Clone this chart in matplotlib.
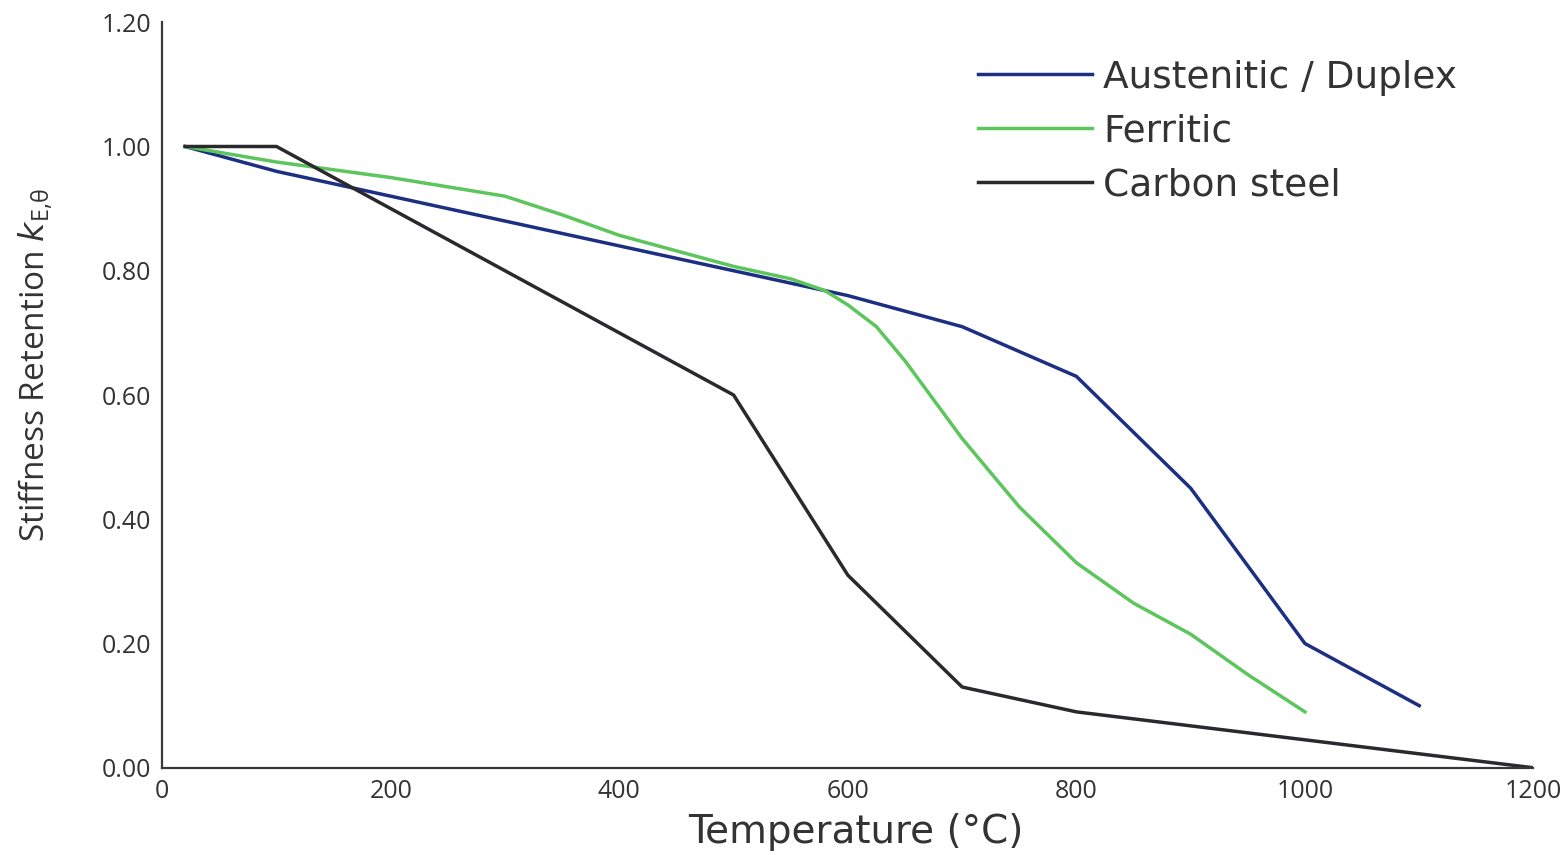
import matplotlib
matplotlib.use("Agg")
import matplotlib.pyplot as plt

# Temperaturas (°C) e fatores de retenção de rigidez
temp_aust = [20, 100, 200, 300, 400, 500, 600, 700, 800, 900, 1000, 1100]
k_aust = [1.00, 0.96, 0.92, 0.88, 0.84, 0.80, 0.76, 0.71, 0.63, 0.45, 0.20, 0.10]

temp_ferr = [20, 100, 200, 300, 350, 400, 500, 550, 580, 600, 625, 650, 700, 750, 800, 850, 900, 950, 1000]
k_ferr = [1.00, 0.975, 0.95, 0.92, 0.89, 0.857, 0.807, 0.787, 0.768, 0.745, 0.71, 0.655, 0.53, 0.42, 0.33, 0.265, 0.215, 0.15, 0.09]

temp_carb = [20, 100, 200, 300, 400, 500, 600, 700, 800, 900, 1000, 1100, 1200]
k_carb = [1.00, 1.00, 0.90, 0.80, 0.70, 0.60, 0.31, 0.13, 0.09, 0.0675, 0.045, 0.0225, 0.0]

x_ticks = [0, 200, 400, 600, 800, 1000, 1200]
y_ticks = [0.0, 0.2, 0.4, 0.6, 0.8, 1.0, 1.2]

txt = "#333333"
tick_font = ["Open Sans", "DejaVu Sans"]
wide_font = ["DejaVu Sans"]

fig = plt.figure(figsize=(15.6, 8.55), dpi=100)
ax = fig.add_axes([0.104, 0.102, 0.879, 0.872])

ax.plot(temp_aust, k_aust, color="#1c2f83", lw=2.5, label="Austenitic / Duplex", solid_joinstyle="round")
ax.plot(temp_ferr, k_ferr, color="#5cc55c", lw=2.5, label="Ferritic", solid_joinstyle="round")
ax.plot(temp_carb, k_carb, color="#2a2a2e", lw=2.5, label="Carbon steel", solid_joinstyle="round")

ax.set_xlim(0, 1200)
ax.set_ylim(0, 1.2)
ax.set_xticks(x_ticks)
ax.set_yticks(y_ticks)
ax.set_xticklabels([str(t) for t in x_ticks], family=tick_font, fontsize=18, color=txt)
ax.set_yticklabels([f"{t:.2f}" for t in y_ticks], family=tick_font, fontsize=18, color=txt)
ax.tick_params(length=0, pad=8)

for s in ["top", "right"]:
    ax.spines[s].set_visible(False)
for s in ["left", "bottom"]:
    ax.spines[s].set_color("#3a3a3a")
    ax.spines[s].set_linewidth(1.6)

ax.set_xlabel("Temperature (°C)", family=wide_font, fontsize=28, color=txt)
ax.xaxis.set_label_coords(0.506, -0.061)
ax.set_ylabel(r"Stiffness Retention $k_{\mathregular{E{,}θ}}$", family=tick_font, fontsize=24, color=txt)
ax.yaxis.set_label_coords(-0.078, 0.54)

leg = ax.legend(loc="upper left", bbox_to_anchor=(0.595, 0.950), frameon=False,
                prop={"family": wide_font, "size": 27}, borderpad=0, borderaxespad=0,
                handlelength=3.04, handletextpad=0.29, labelspacing=0.475)
for t in leg.get_texts():
    t.set_color(txt)

fig.savefig("out.png", dpi=100)
